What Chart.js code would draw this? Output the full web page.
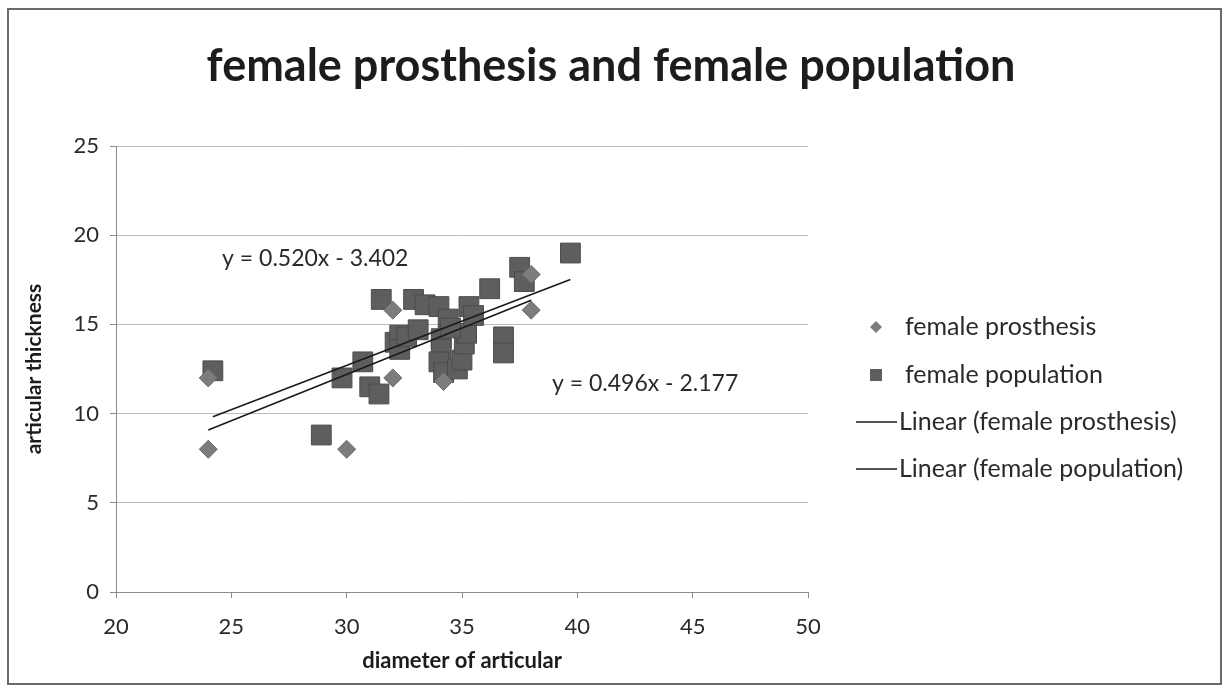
<!DOCTYPE html>
<html>
<head>
<meta charset="utf-8">
<script src="https://cdn.jsdelivr.net/npm/chart.js@4"></script>
<style>
  html, body { margin: 0; padding: 0; background: #fff; }
</style>
</head>
<body>
<canvas id="scatterChart" width="1224" height="686"></canvas>
<script>
// female prosthesis (diamonds)
const prosthesisX = [24, 24, 30, 32, 32, 34.2, 38, 38];
const prosthesisY = [12, 8, 8, 12, 15.8, 11.8, 17.8, 15.8];

// female population (squares)
const populationX = [24.2, 28.9, 29.8, 30.7, 31.0, 31.4, 31.5, 32.9, 33.4, 32.1, 32.3, 32.3, 32.6, 33.1, 34.0, 34.1, 34.1, 34.0, 34.2, 34.8, 35.0, 35.1, 35.2, 34.4, 35.3, 35.5, 34.5, 36.2, 36.8, 36.8, 37.5, 37.7, 39.7];
const populationY = [12.4, 8.8, 12.0, 12.9, 11.5, 11.1, 16.4, 16.4, 16.1, 14.0, 14.4, 13.6, 14.3, 14.7, 16.0, 14.2, 13.6, 12.9, 12.3, 12.5, 13.0, 13.9, 14.5, 15.3, 16.0, 15.5, 14.8, 17.0, 14.3, 13.4, 18.2, 17.4, 19.0];

// trendline end points (as drawn)
const trendProsthesisX = [24, 38];
const trendProsthesisY = [9.08, 16.36];
const trendPopulationX = [24.2, 39.7];
const trendPopulationY = [9.83, 17.51];

const eqProsthesis = 'y = 0.520x - 3.402';
const eqPopulation = 'y = 0.496x - 2.177';

const xTicks = [20, 25, 30, 35, 40, 45, 50];
const yTicks = [0, 5, 10, 15, 20, 25];

const FONT = 'Lato, "Open Sans", sans-serif';

function pairs(xs, ys) {
  return xs.map((x, i) => ({ x: x, y: ys[i] }));
}

// frame, title, legend and equation labels
const decor = {
  id: 'decor',
  beforeDraw(chart) {
    const ctx = chart.ctx;
    ctx.save();
    ctx.fillStyle = '#fff';
    ctx.fillRect(0, 0, chart.width, chart.height);
    ctx.strokeStyle = '#6a6a6a';
    ctx.lineWidth = 2;
    ctx.strokeRect(8, 9, 1213, 675);
    ctx.restore();
  },
  afterDraw(chart) {
    const ctx = chart.ctx;
    const xs = chart.scales.x, ys = chart.scales.y;
    ctx.save();
    // title
    ctx.fillStyle = '#1c1c1c';
    ctx.font = 'bold 45px ' + FONT;
    ctx.textAlign = 'center';
    ctx.textBaseline = 'middle';
    ctx.fillText('female prosthesis and female population', 611, 66);

    // equations
    ctx.font = '23px ' + FONT;
    ctx.fillStyle = '#2a2a2a';
    ctx.textAlign = 'left';
    ctx.fillText(eqProsthesis, xs.getPixelForValue(24.6), ys.getPixelForValue(18.7));
    ctx.fillText(eqPopulation, xs.getPixelForValue(38.9), ys.getPixelForValue(11.7));

    // legend
    const ds = chart.data.datasets;
    const order = [2, 3, 0, 1];
    const rowsY = [327, 375, 422, 469];
    ctx.font = '25px ' + FONT;
    order.forEach((di, i) => {
      const d = ds[di];
      const y = rowsY[i];
      if (d.showLine) {
        ctx.strokeStyle = d.borderColor;
        ctx.lineWidth = 1.3;
        ctx.beginPath();
        ctx.moveTo(856, y);
        ctx.lineTo(897, y);
        ctx.stroke();
      } else if (d.pointStyle === 'rectRot') {
        ctx.fillStyle = d.backgroundColor;
        ctx.beginPath();
        ctx.moveTo(876, y - 6);
        ctx.lineTo(882, y);
        ctx.lineTo(876, y + 6);
        ctx.lineTo(870, y);
        ctx.closePath();
        ctx.fill();
      } else {
        ctx.fillStyle = d.backgroundColor;
        ctx.fillRect(870, y - 6, 12, 12);
      }
      ctx.fillStyle = '#2a2a2a';
      ctx.fillText(d.label, d.showLine ? 899 : 905, y);
    });
    ctx.restore();
  }
};

const data = {
  datasets: [
    {
      label: 'Linear (female prosthesis)',
      data: pairs(trendProsthesisX, trendProsthesisY),
      showLine: true,
      borderColor: '#1a1a1a',
      borderWidth: 1.6,
      pointRadius: 0,
      fill: false
    },
    {
      label: 'Linear (female population)',
      data: pairs(trendPopulationX, trendPopulationY),
      showLine: true,
      borderColor: '#1a1a1a',
      borderWidth: 1.6,
      pointRadius: 0,
      fill: false
    },
    {
      label: 'female prosthesis',
      data: pairs(prosthesisX, prosthesisY),
      pointStyle: 'rectRot',
      pointRadius: 9,
      backgroundColor: '#7c7c7c',
      borderColor: '#6c6c6c',
      borderWidth: 1
    },
    {
      label: 'female population',
      data: pairs(populationX, populationY),
      pointStyle: 'rect',
      pointRadius: 14,
      backgroundColor: '#5e5e5e',
      borderColor: '#4c4c4c',
      borderWidth: 1
    }
  ]
};

const config = {
  type: 'scatter',
  data: data,
  plugins: [decor],
  options: {
    responsive: false,
    animation: false,
    layout: { padding: { top: 146, right: 416, bottom: 0, left: 0 } },
    plugins: {
      legend: { display: false },
      title: { display: false },
      tooltip: { enabled: false }
    },
    scales: {
      x: {
        type: 'linear',
        min: 20,
        max: 50,
        afterFit: (s) => { s.height = 94; },
        afterBuildTicks: (s) => { s.ticks = xTicks.map(v => ({ value: v })); },
        grid: { drawOnChartArea: false, drawTicks: true, tickLength: 6, color: '#8a8a8a' },
        border: { color: '#8a8a8a', width: 1 },
        ticks: { padding: 16, color: '#2a2a2a', font: { family: FONT, size: 22 } },
        title: {
          display: true,
          text: 'diameter of articular',
          color: '#1c1c1c',
          font: { family: FONT, size: 22, weight: 'bold' },
          padding: { top: 0, bottom: 12 }
        }
      },
      y: {
        type: 'linear',
        min: 0,
        max: 25,
        afterFit: (s) => { s.width = 116; },
        afterBuildTicks: (s) => { s.ticks = yTicks.map(v => ({ value: v })); },
        grid: { color: '#bcbcbc', borderDash: [2, 2], tickLength: 6, tickColor: '#8a8a8a' },
        border: { color: '#8a8a8a', width: 1 },
        ticks: { padding: 11, color: '#2a2a2a', font: { family: FONT, size: 22 } },
        title: {
          display: true,
          text: 'articular thickness',
          color: '#1c1c1c',
          font: { family: FONT, size: 21, weight: 'bold' },
          padding: { top: 22, bottom: 0 }
        }
      }
    }
  }
};

const myChart = new Chart(document.getElementById('scatterChart'), config);
</script>
</body>
</html>
